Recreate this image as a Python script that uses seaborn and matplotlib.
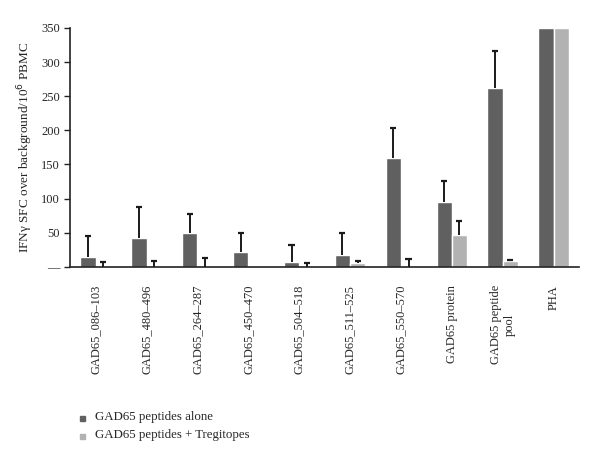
import numpy as np
import pandas as pd
import matplotlib
matplotlib.use("Agg")
import matplotlib.pyplot as plt
import seaborn as sns

categories = ["GAD65_086\u2013103", "GAD65_480\u2013496", "GAD65_264\u2013287",
              "GAD65_450\u2013470", "GAD65_504\u2013518", "GAD65_511\u2013525",
              "GAD65_550\u2013570", "GAD65 protein", "GAD65 peptide\npool", "PHA"]
series = ["GAD65 peptides alone", "GAD65 peptides + Tregitopes"]
alone = [14, 42, 49, 22, 7, 18, 160, 95, 262, 350]
alone_err = [31, 46, 29, 28, 25, 31, 43, 31, 54, 0]
treg = [0, 0, 0, 0, 0, 5, 0, 46, 9, 350]
treg_err = [7, 8, 13, 0, 5, 3, 12, 21, 1, 0]
yticks = [0, 50, 100, 150, 200, 250, 300, 350]
ytick_labels = ["\u2014", "50", "100", "150", "200", "250", "300", "350"]

colors = ["#606060", "#b2b2b2"]

sns.set_style("white")
plt.rcParams["font.family"] = ["Liberation Serif", "DejaVu Serif"]

df = pd.DataFrame({
    "category": categories * 2,
    "series": [series[0]] * len(categories) + [series[1]] * len(categories),
    "value": alone + treg,
})

fig = plt.figure(figsize=(6, 4.65), dpi=100)
ax = fig.add_axes([0.117, 0.426, 0.848, 0.514])

sns.barplot(data=df, x="category", y="value", hue="series", palette=colors,
            width=0.6, dodge=True, errorbar=None, saturation=1, ax=ax,
            legend=False)

# one-sided error bars, upward only, with a cap at the top
cap = 0.06
for i, (vals, errs) in enumerate([(alone, alone_err), (treg, treg_err)]):
    cont = ax.containers[i]
    for bar, v, e in zip(cont, vals, errs):
        if e <= 0:
            continue
        xc = bar.get_x() + bar.get_width() / 2
        ax.vlines(xc, v, v + e, color="#1a1a1a", linewidth=1.4, zorder=3)
        ax.hlines(v + e, xc - cap, xc + cap, color="#1a1a1a",
                  linewidth=1.6, zorder=3)

ax.set_ylim(0, 350)
ax.set_xlim(-0.5, len(categories) - 0.5)
ax.set_yticks(yticks)
ax.set_yticklabels(ytick_labels, fontsize=9)
ax.set_ylabel("IFN\u03b3 SFC over background/10$^6$ PBMC", fontsize=9.5)
ax.set_xlabel("")

# category labels at centers, ticks at boundaries
ax.set_xticks(np.arange(len(categories)))
ax.set_xticklabels(categories, rotation=90, fontsize=9, va="top",
                   ha="center", multialignment="center")
ax.tick_params(axis="x", length=0, pad=13)
ax.set_xticks(np.arange(len(categories) + 1) - 0.5, minor=True)
ax.tick_params(axis="x", which="minor", direction="out", length=4,
               width=1, color="#222222")
ax.tick_params(axis="y", direction="out", length=4, width=1,
               color="#222222", left=True)

for s in ["top", "right"]:
    ax.spines[s].set_visible(False)
for s in ["left", "bottom"]:
    ax.spines[s].set_color("#222222")
    ax.spines[s].set_linewidth(1.2)

# legend below the chart
for j, (lab, c) in enumerate(zip(series, colors)):
    yy = 0.103 - j * 0.039
    fig.patches.append(plt.Rectangle((0.133, yy - 0.008), 0.008, 0.011,
                                     transform=fig.transFigure,
                                     color=c, figure=fig))
    fig.text(0.158, yy, lab, fontsize=9.3, va="center", ha="left")

fig.savefig("out.png", dpi=100)
